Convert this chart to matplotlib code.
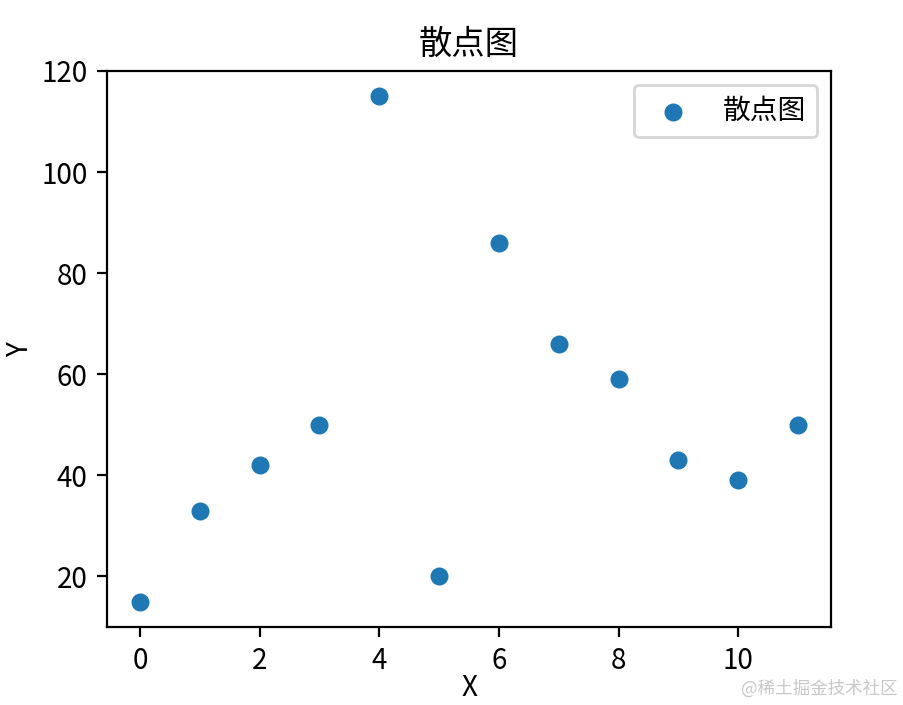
import matplotlib
matplotlib.use("Agg")
import matplotlib.pyplot as plt

plt.rcParams['font.family'] = ['Noto Sans CJK SC', 'DejaVu Sans']
plt.rcParams['axes.unicode_minus'] = False

x_vals = [0, 1, 2, 3, 4, 5, 6, 7, 8, 9, 10, 11]
y_vals = [15, 33, 42, 50, 115, 20, 86, 66, 59, 43, 39, 50]
title = "散点图"
legend_label = "散点图"

dpi = 200
fig = plt.figure(figsize=(904 / dpi, 705 / dpi), dpi=dpi)
ax = fig.add_axes([107 / 904, 1 - 627 / 705, (831 - 107) / 904, (627 - 71) / 705])
ax.scatter(x_vals, y_vals, s=30, color='#1f77b4', label=legend_label)
ax.set_title(title, fontsize=12)
ax.set_xlabel("X", va='center')
ax.set_ylabel("Y", va='center')
ax.xaxis.set_label_coords(0.5, (627 - 688) / 556)
ax.yaxis.set_label_coords((20 - 107) / 724, 0.5)
ax.set_yticks([20, 40, 60, 80, 100, 120])
ax.legend(loc='upper right')
fig.text(898 / 904, 1 - 689 / 705, "@稀土掘金技术社区", ha='right', va='center',
         fontsize=6.3, color='#c8c8c8')
fig.savefig("out.png", dpi=dpi)
